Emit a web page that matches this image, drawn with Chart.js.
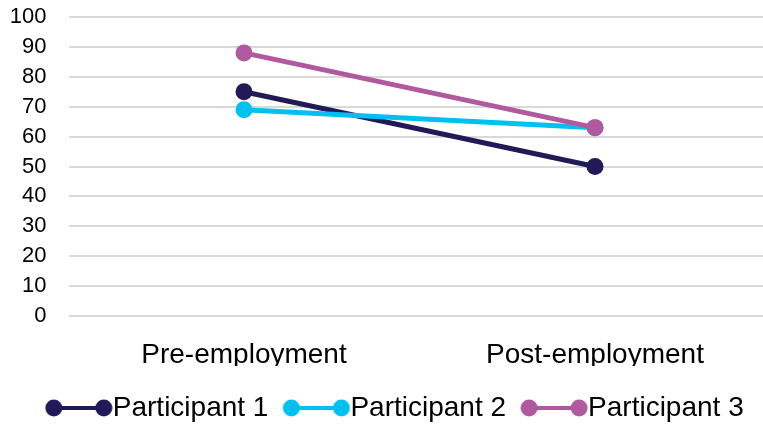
<!DOCTYPE html>
<html>
<head>
<meta charset="utf-8">
<script src="https://cdn.jsdelivr.net/npm/chart.js@4/dist/chart.umd.min.js"></script>
<style>
  html, body { margin: 0; padding: 0; background: #ffffff; overflow: hidden; }
  #wrap { width: 763px; height: 426px; overflow: hidden; position: relative; }
  canvas { display: block; }
</style>
</head>
<body>
<div id="wrap"><canvas id="chart" width="790" height="432"></canvas></div>
<script>
// Scores before and after employment
const categories = ['Pre-employment', 'Post-employment'];
const participant1 = [75, 50];
const participant2 = [69, 63];
const participant3 = [88, 63];
const seriesNames = ['Participant 1', 'Participant 2', 'Participant 3'];
const seriesColors = ['#201a56', '#00c0f0', '#b0599f'];
const yTicks = [0, 10, 20, 30, 40, 50, 60, 70, 80, 90, 100];

const FONT = '"Liberation Sans", Arial, Helvetica, sans-serif';

// Legend swatch: a short line segment with a dot at each end
function makeSwatch(color) {
  const c = document.createElement('canvas');
  c.width = 68; c.height = 20;
  const g = c.getContext('2d');
  g.strokeStyle = color;
  g.lineWidth = 4;
  g.beginPath();
  g.moveTo(9, 10);
  g.lineTo(59, 10);
  g.stroke();
  g.fillStyle = color;
  [9, 59].forEach(cx => {
    g.beginPath();
    g.arc(cx, 10, 8.5, 0, Math.PI * 2);
    g.fill();
  });
  return c;
}

// Nudge the legend row a little to the right of centre
const legendShift = {
  id: 'legendShift',
  afterLayout(chart) {
    if (chart.legend) {
      chart.legend.left += 11;
      chart.legend.right += 11;
    }
  }
};

const seriesValues = [participant1, participant2, participant3];
const datasets = seriesValues.map((vals, i) => ({
  label: seriesNames[i],
  data: vals,
  borderColor: seriesColors[i],
  backgroundColor: seriesColors[i],
  borderWidth: 5,
  pointRadius: 8.5,
  pointHoverRadius: 8.5,
  pointBackgroundColor: seriesColors[i],
  pointBorderWidth: 0,
  pointStyle: 'circle',
  order: seriesValues.length - 1 - i,
  swatch: makeSwatch(seriesColors[i])
}));

new Chart(document.getElementById('chart'), {
  type: 'line',
  data: { labels: categories, datasets },
  plugins: [legendShift],
  options: {
    responsive: false,
    animation: false,
    devicePixelRatio: 1,
    layout: { padding: { left: 10, right: 19.5, top: 17, bottom: 0 } },
    scales: {
      x: {
        offset: true,
        grid: { display: false, drawTicks: false },
        border: { display: false },
        ticks: { color: '#000000', padding: 22, font: { family: FONT, size: 28 } },
        afterFit: axis => {
          axis.height = 50;
          axis.paddingLeft = 0;
          axis.paddingRight = 0;
        }
      },
      y: {
        min: 0,
        max: 100,
        afterBuildTicks: axis => { axis.ticks = yTicks.map(v => ({ value: v })); },
        grid: { color: '#d9d9d9', lineWidth: 2, drawTicks: false },
        border: { display: false },
        ticks: { color: '#000000', padding: 22, autoSkip: false, font: { family: FONT, size: 22 } },
        afterFit: axis => {
          axis.width = 58.5;
          axis.paddingTop = 0;
          axis.paddingBottom = 0;
        }
      }
    },
    plugins: {
      tooltip: { enabled: false },
      legend: {
        position: 'bottom',
        labels: {
          color: '#000000',
          font: { family: FONT, size: 28 },
          usePointStyle: true,
          pointStyleWidth: 40,
          padding: 28,
          sort: (a, b) => a.datasetIndex - b.datasetIndex,
          generateLabels: chart => chart.data.datasets.map((ds, i) => ({
            text: ds.label,
            datasetIndex: i,
            pointStyle: ds.swatch,
            fillStyle: ds.backgroundColor,
            strokeStyle: ds.borderColor,
            lineWidth: 0,
            fontColor: '#000000',
            hidden: false
          }))
        }
      }
    }
  }
});
</script>
</body>
</html>
